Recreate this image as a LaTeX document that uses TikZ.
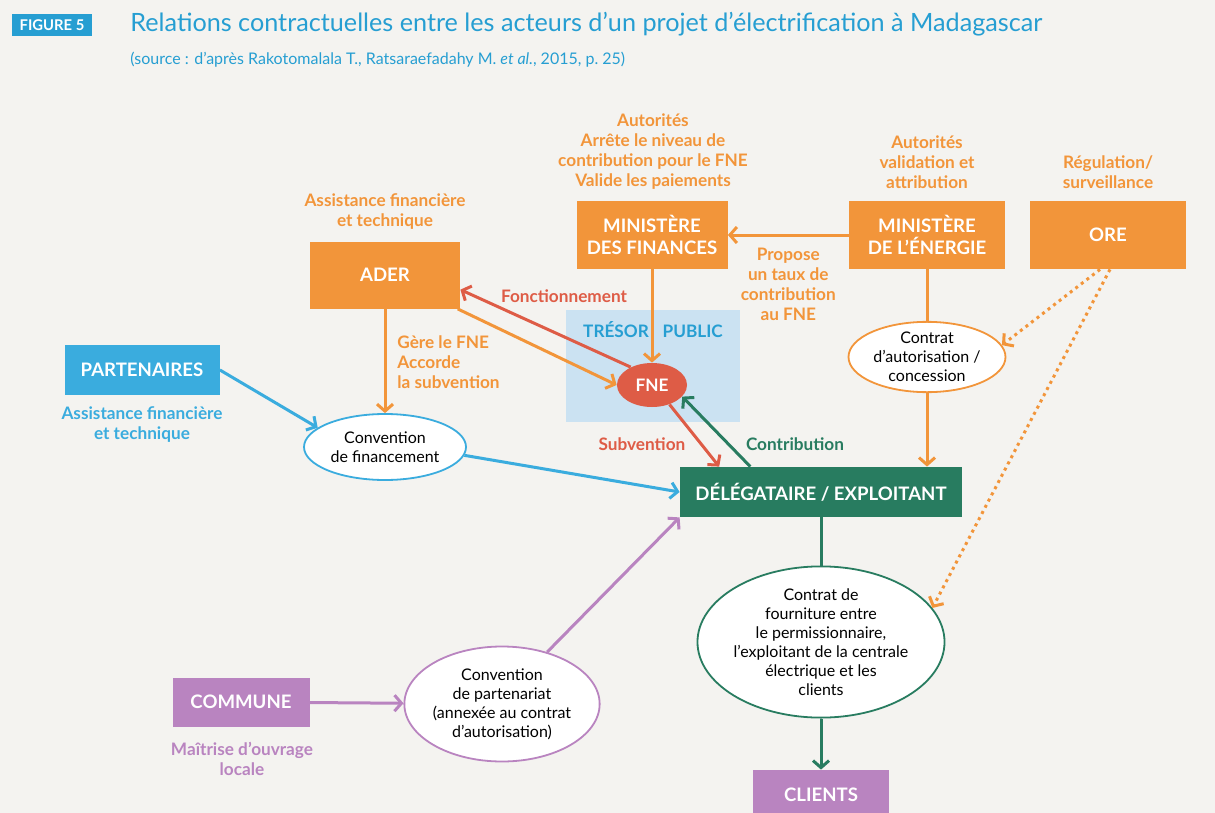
\documentclass[tikz,border=0pt]{standalone}
\usepackage{fontspec}
\setmainfont{Lato}
\usetikzlibrary{shapes.geometric,arrows.meta,calc}

\definecolor{bgcol}{RGB}{244,243,240}
\definecolor{orgcol}{RGB}{242,149,58}
\definecolor{bluecol}{RGB}{58,172,222}
\definecolor{titlecol}{RGB}{38,158,210}
\definecolor{greencol}{RGB}{40,124,96}
\definecolor{purpcol}{RGB}{185,132,192}
\definecolor{redcol}{RGB}{222,92,70}
\definecolor{tresorcol}{RGB}{203,226,242}

\tikzset{
  actor/.style={fill=#1, text=white, font=\bfseries\fontsize{9.3}{11}\selectfont, align=center, inner sep=0pt},
  note/.style={text=#1, font=\bfseries\fontsize{8.6}{10}\selectfont, align=center, inner sep=0pt},
  contract/.style={ellipse, draw=#1, line width=0.9pt, fill=white, align=center, inner sep=0pt, font=\fontsize{8}{9.5}\selectfont},
  link/.style={draw=#1, line width=1.5pt, -{Straight Barb[length=3.5pt,width=8pt]}},
  plain/.style={draw=#1, line width=1.5pt},
}

\begin{document}
\begin{tikzpicture}[x=0.5pt,y=-0.5pt]
% background and frame of the page
\fill[bgcol] (0,0) rectangle (1215,813);
\useasboundingbox (0,0) rectangle (1215,813);

% header
\node[fill=titlecol, text=white, font=\bfseries\fontsize{7.4}{8}\selectfont, minimum width=40pt, minimum height=11pt, inner sep=0pt] (fig) at (52,25) {FIGURE 5};
\node[anchor=west, text=titlecol, font=\fontsize{12.6}{14}\selectfont, inner sep=0pt] (title) at (130,24) {Relations contractuelles entre les acteurs d’un projet d’électrification à Madagascar};
\node[anchor=west, text=titlecol, font=\fontsize{8}{9}\selectfont, inner sep=0pt] (source) at (130,60) {(source : d’après Rakotomalala T., Ratsaraefadahy M. \textit{et al.}, 2015, p.~25)};

% Tresor public
\node[fill=tresorcol, minimum width=87pt, minimum height=56pt, inner sep=0pt] (tresor) at (653,366) {};
\node[note=titlecol, font=\bfseries\fontsize{8.6}{10}\selectfont] (tresortxt) at (653,330) {TRÉSOR\hspace{0.8em}PUBLIC};

% actors
\node[actor=orgcol, minimum width=75pt, minimum height=33.5pt] (ader) at (385,275) {ADER};
\node[actor=orgcol, minimum width=75.5pt, minimum height=34pt] (minfin) at (652,235) {MINISTÈRE\\DES FINANCES};
\node[actor=orgcol, minimum width=78pt, minimum height=34pt] (minener) at (927,235) {MINISTÈRE\\DE L’ÉNERGIE};
\node[actor=orgcol, minimum width=78pt, minimum height=34pt] (ore) at (1108,235) {ORE};
\node[actor=bluecol, minimum width=77.5pt, minimum height=25pt] (partners) at (142,370) {PARTENAIRES};
\node[actor=greencol, minimum width=141pt, minimum height=25pt] (deleg) at (821,492) {DÉLÉGATAIRE / EXPLOITANT};
\node[actor=purpcol, minimum width=68.5pt, minimum height=24.5pt] (commune) at (241,702) {COMMUNE};
\node[actor=purpcol, minimum width=68pt, minimum height=25pt] (clients) at (821,795) {CLIENTS};
\node[ellipse, fill=redcol, text=white, font=\bfseries\fontsize{8.6}{10}\selectfont, minimum width=35pt, minimum height=22pt, inner sep=0pt] (fne) at (652,385) {FNE};

% contracts
\node[contract=bluecol, minimum width=81pt, minimum height=33pt] (convfin) at (385,447) {Convention\\de financement};
\node[contract=orgcol, minimum width=78.5pt, minimum height=33pt] (convaut) at (927,357) {Contrat\\d’autorisation /\\concession};
\node[contract=greencol, minimum width=112.5pt, minimum height=70.5pt] (convfour) at (821,642) {Contrat de\\fourniture entre\\le permissionnaire,\\l’exploitant de la centrale\\électrique et les\\clients};
\node[contract=purpcol, minimum width=90pt, minimum height=57.5pt] (convpart) at (502,704) {Convention\\de partenariat\\(annexée au contrat\\d’autorisation)};

% roles
\node[note=orgcol] (aderrole) at (385,212) {Assistance financière\\et technique};
\node[note=orgcol] (minfinrole) at (653,152) {Autorités\\Arrête le niveau de\\contribution pour le FNE\\Valide les paiements};
\node[note=orgcol] (minenerrole) at (927,162) {Autorités\\validation et\\attribution};
\node[note=orgcol] (orerole) at (1108,172) {Régulation/\\surveillance};
\node[note=bluecol] (partnersrole) at (142,425) {Assistance financière\\et technique};
\node[note=purpcol] (communerole) at (242,759) {Maîtrise d’ouvrage\\locale};

% flows
\draw[link=orgcol] (minener) -- (minfin) node[note=orgcol, midway, below=6pt] (propose) {Propose\\un taux de\\contribution\\au FNE};
\draw[link=orgcol] (minfin) -- (fne);
\draw[link=redcol] (fne.140) -- (ader.-11);
\node[note=redcol] (fonct) at (564,296) {Fonctionnement};
\draw[link=orgcol] (ader.-25) -- (fne.west);
\draw[link=orgcol] (ader) -- (convfin);
\node[note=orgcol, anchor=west, align=left] (gere) at (397,362) {Gère le FNE\\Accorde\\la subvention};
\draw[link=bluecol] (partners.east) -- (convfin.164);
\draw[link=bluecol] (convfin.-6) -- (deleg.west);
\draw[link=redcol] (fne.-48) -- ($(deleg.north west)!0.14!(deleg.north east)$);
\node[note=redcol] (subv) at (642,444) {Subvention};
\draw[link=greencol] ($(deleg.north west)!0.25!(deleg.north east)$) -- (fne.-21);
\node[note=greencol] (contrib) at (795,444) {Contribution};
\draw[plain=orgcol] (minener) -- (convaut);
\draw[link=orgcol] (convaut.south) -- (convaut.south |- deleg.north);
\draw[link=orgcol, dotted] ([xshift=-4pt]ore.south) -- (convaut.9);
\draw[link=orgcol, dotted] ([xshift=1pt]ore.south) -- (convfour.17);
\draw[plain=greencol] (deleg) -- (convfour);
\draw[link=greencol] (convfour) -- (clients);
\draw[link=purpcol] (commune) -- (convpart);
\draw[link=purpcol] (convpart.49) -- (deleg.south west);
\end{tikzpicture}
\end{document}
